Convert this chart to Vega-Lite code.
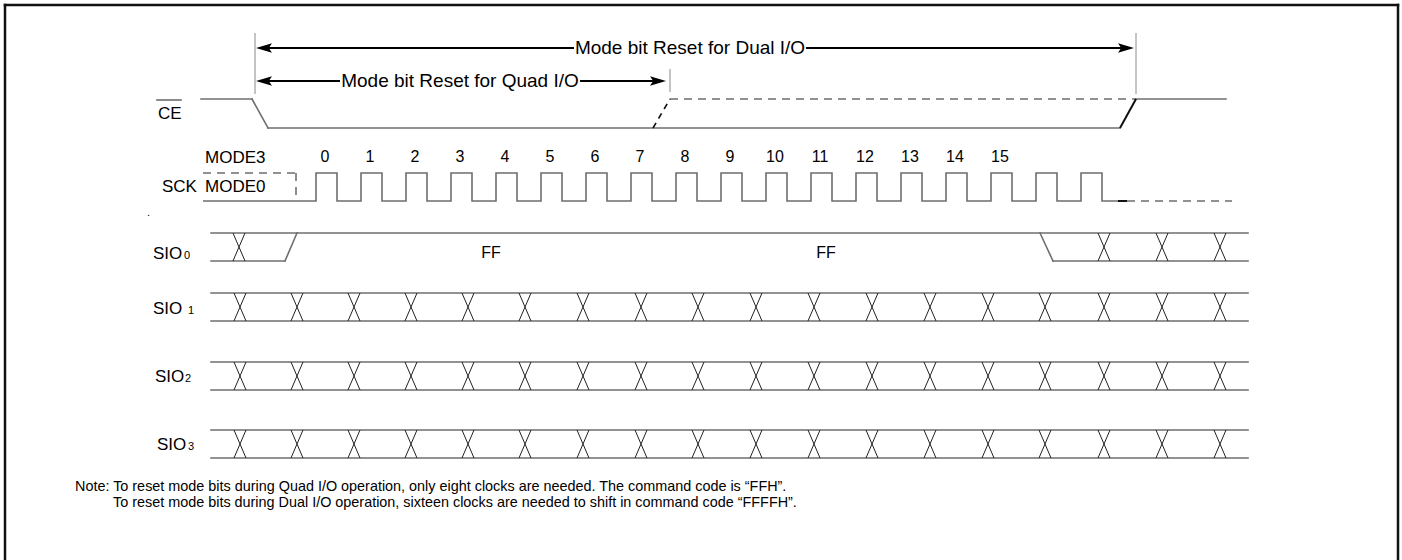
{
  "$schema": "https://vega.github.io/schema/vega-lite/v6.json",
  "width": 1402,
  "height": 560,
  "padding": 0,
  "autosize": {"type": "none"},
  "background": "white",
  "config": {"view": {"stroke": null}},
  "datasets": {
    "frame": [
      {"x": 5, "y": 5, "x2": 1398, "y2": 5},
      {"x": 5, "y": 5, "x2": 5, "y2": 560},
      {"x": 1398, "y": 5, "x2": 1398, "y2": 560}
    ],
    "solid": [
      {"x": 201, "y": 99, "x2": 252, "y2": 99},
      {"x": 252, "y": 99, "x2": 268, "y2": 128},
      {"x": 268, "y": 128, "x2": 1120, "y2": 128},
      {"x": 1136, "y": 99, "x2": 1226, "y2": 99},
      {"x": 157, "y": 100, "x2": 181, "y2": 100},
      {"x": 211, "y": 233, "x2": 1248, "y2": 233},
      {"x": 211, "y": 261, "x2": 285, "y2": 261},
      {"x": 285, "y": 261, "x2": 297, "y2": 233},
      {"x": 1040, "y": 233, "x2": 1053, "y2": 261},
      {"x": 1053, "y": 261, "x2": 1248, "y2": 261},
      {"x": 211, "y": 293, "x2": 1248, "y2": 293},
      {"x": 211, "y": 321, "x2": 1248, "y2": 321},
      {"x": 211, "y": 362, "x2": 1248, "y2": 362},
      {"x": 211, "y": 390, "x2": 1248, "y2": 390},
      {"x": 211, "y": 430, "x2": 1248, "y2": 430},
      {"x": 211, "y": 458, "x2": 1248, "y2": 458}
    ],
    "ticks": [
      {"x": 255, "y": 33, "x2": 255, "y2": 94},
      {"x": 670, "y": 69, "x2": 670, "y2": 92},
      {"x": 1136, "y": 33, "x2": 1136, "y2": 94}
    ],
    "arrowlines": [
      {"x": 262, "y": 48, "x2": 574, "y2": 48},
      {"x": 806, "y": 48, "x2": 1128, "y2": 48},
      {"x": 262, "y": 81, "x2": 340, "y2": 81},
      {"x": 580, "y": 81, "x2": 660, "y2": 81}
    ],
    "heads": [
      {"x": 264, "y": 48, "dir": "L"},
      {"x": 1126, "y": 48, "dir": "R"},
      {"x": 264, "y": 81, "dir": "L"},
      {"x": 658, "y": 81, "dir": "R"}
    ],
    "dashgray": [
      {"x": 670, "y": 99, "x2": 1136, "y2": 99},
      {"x": 203, "y": 173, "x2": 296, "y2": 173},
      {"x": 296, "y": 173, "x2": 296, "y2": 201},
      {"x": 1127, "y": 201, "x2": 1232, "y2": 201}
    ],
    "dark": [
      {"x": 1120, "y": 128, "x2": 1136, "y2": 99},
      {"x": 1118, "y": 201, "x2": 1127, "y2": 201}
    ],
    "dashdark": [
      {"x": 653, "y": 128, "x2": 670, "y2": 99}
    ],
    "sck": [
      {"x": 203, "y": 201}, {"x": 316, "y": 173}, {"x": 337, "y": 201},
      {"x": 361, "y": 173}, {"x": 382, "y": 201}, {"x": 406, "y": 173}, {"x": 427, "y": 201},
      {"x": 451, "y": 173}, {"x": 472, "y": 201}, {"x": 496, "y": 173}, {"x": 517, "y": 201},
      {"x": 541, "y": 173}, {"x": 562, "y": 201}, {"x": 586, "y": 173}, {"x": 607, "y": 201},
      {"x": 631, "y": 173}, {"x": 652, "y": 201}, {"x": 676, "y": 173}, {"x": 697, "y": 201},
      {"x": 721, "y": 173}, {"x": 742, "y": 201}, {"x": 766, "y": 173}, {"x": 787, "y": 201},
      {"x": 811, "y": 173}, {"x": 832, "y": 201}, {"x": 856, "y": 173}, {"x": 877, "y": 201},
      {"x": 901, "y": 173}, {"x": 922, "y": 201}, {"x": 946, "y": 173}, {"x": 967, "y": 201},
      {"x": 991, "y": 173}, {"x": 1012, "y": 201}, {"x": 1036, "y": 173}, {"x": 1057, "y": 201},
      {"x": 1081, "y": 173}, {"x": 1102, "y": 201}, {"x": 1118, "y": 201}
    ],
    "crosses": [
      {"x": 239, "y": 247}, {"x": 1104, "y": 247}, {"x": 1162, "y": 247}, {"x": 1220, "y": 247},
      {"x": 240, "y": 307}, {"x": 297, "y": 307}, {"x": 354, "y": 307}, {"x": 411, "y": 307}, {"x": 468, "y": 307}, {"x": 525, "y": 307},
      {"x": 583, "y": 307}, {"x": 641, "y": 307}, {"x": 698, "y": 307}, {"x": 756, "y": 307}, {"x": 814, "y": 307}, {"x": 872, "y": 307},
      {"x": 930, "y": 307}, {"x": 988, "y": 307}, {"x": 1045, "y": 307}, {"x": 1104, "y": 307}, {"x": 1162, "y": 307}, {"x": 1220, "y": 307},
      {"x": 240, "y": 376}, {"x": 297, "y": 376}, {"x": 354, "y": 376}, {"x": 411, "y": 376}, {"x": 468, "y": 376}, {"x": 525, "y": 376},
      {"x": 583, "y": 376}, {"x": 641, "y": 376}, {"x": 698, "y": 376}, {"x": 756, "y": 376}, {"x": 814, "y": 376}, {"x": 872, "y": 376},
      {"x": 930, "y": 376}, {"x": 988, "y": 376}, {"x": 1045, "y": 376}, {"x": 1104, "y": 376}, {"x": 1162, "y": 376}, {"x": 1220, "y": 376},
      {"x": 240, "y": 444}, {"x": 297, "y": 444}, {"x": 354, "y": 444}, {"x": 411, "y": 444}, {"x": 468, "y": 444}, {"x": 525, "y": 444},
      {"x": 583, "y": 444}, {"x": 641, "y": 444}, {"x": 698, "y": 444}, {"x": 756, "y": 444}, {"x": 814, "y": 444}, {"x": 872, "y": 444},
      {"x": 930, "y": 444}, {"x": 988, "y": 444}, {"x": 1045, "y": 444}, {"x": 1104, "y": 444}, {"x": 1162, "y": 444}, {"x": 1220, "y": 444}
    ],
    "arrowtext": [
      {"x": 690, "y": 48, "t": "Mode bit Reset for Dual I/O"},
      {"x": 460, "y": 81, "t": "Mode bit Reset for Quad I/O"}
    ],
    "centertext": [
      {"x": 325, "y": 157, "t": "0"}, {"x": 370, "y": 157, "t": "1"}, {"x": 415, "y": 157, "t": "2"}, {"x": 460, "y": 157, "t": "3"},
      {"x": 505, "y": 157, "t": "4"}, {"x": 550, "y": 157, "t": "5"}, {"x": 595, "y": 157, "t": "6"}, {"x": 640, "y": 157, "t": "7"},
      {"x": 685, "y": 157, "t": "8"}, {"x": 730, "y": 157, "t": "9"}, {"x": 775, "y": 157, "t": "10"}, {"x": 820, "y": 157, "t": "11"},
      {"x": 865, "y": 157, "t": "12"}, {"x": 910, "y": 157, "t": "13"}, {"x": 955, "y": 157, "t": "14"}, {"x": 1000, "y": 157, "t": "15"},
      {"x": 491, "y": 253, "t": "FF"}, {"x": 826, "y": 253, "t": "FF"}
    ],
    "lefttext": [
      {"x": 158, "y": 119, "t": "CE"},
      {"x": 205, "y": 163, "t": "MODE3"},
      {"x": 205, "y": 192, "t": "MODE0"},
      {"x": 162, "y": 192, "t": "SCK"},
      {"x": 153, "y": 259, "t": "SIO"},
      {"x": 153, "y": 314, "t": "SIO"},
      {"x": 155, "y": 382, "t": "SIO"},
      {"x": 157, "y": 450, "t": "SIO"}
    ],
    "subs": [
      {"x": 184, "y": 259, "t": "0"},
      {"x": 188, "y": 314, "t": "1"},
      {"x": 185, "y": 382, "t": "2"},
      {"x": 188, "y": 450, "t": "3"},
      {"x": 147, "y": 216, "t": "."}
    ],
    "notes": [
      {"x": 75, "y": 487, "t": "Note: To reset mode bits during Quad I/O operation, only eight clocks are needed. The command code is \u201cFFH\u201d."},
      {"x": 113, "y": 503, "t": "To reset mode bits during Dual I/O operation, sixteen clocks are needed to shift in command code \u201cFFFFH\u201d."}
    ]
  },
  "layer": [
    {
      "data": {"name": "frame"},
      "mark": {"type": "rule", "color": "#111111", "strokeWidth": 2.5, "strokeCap": "square"},
      "encoding": {
        "x": {"field": "x", "type": "quantitative", "scale": {"domain": [0, 1402], "nice": false, "zero": false}, "axis": null},
        "y": {"field": "y", "type": "quantitative", "scale": {"domain": [560, 0], "nice": false, "zero": false}, "axis": null},
        "x2": {"field": "x2"}, "y2": {"field": "y2"}
      }
    },
    {
      "data": {"name": "solid"},
      "mark": {"type": "rule", "color": "#6e6e6e", "strokeWidth": 1.6, "strokeCap": "square"},
      "encoding": {
        "x": {"field": "x", "type": "quantitative", "axis": null},
        "y": {"field": "y", "type": "quantitative", "axis": null},
        "x2": {"field": "x2"}, "y2": {"field": "y2"}
      }
    },
    {
      "data": {"name": "ticks"},
      "mark": {"type": "rule", "color": "#8a8a8a", "strokeWidth": 1},
      "encoding": {
        "x": {"field": "x", "type": "quantitative", "axis": null},
        "y": {"field": "y", "type": "quantitative", "axis": null},
        "x2": {"field": "x2"}, "y2": {"field": "y2"}
      }
    },
    {
      "data": {"name": "arrowlines"},
      "mark": {"type": "rule", "color": "#000000", "strokeWidth": 2},
      "encoding": {
        "x": {"field": "x", "type": "quantitative", "axis": null},
        "y": {"field": "y", "type": "quantitative", "axis": null},
        "x2": {"field": "x2"}, "y2": {"field": "y2"}
      }
    },
    {
      "data": {"name": "heads"},
      "mark": {"type": "point", "filled": true, "color": "#000000", "opacity": 1, "size": 256},
      "encoding": {
        "x": {"field": "x", "type": "quantitative", "axis": null},
        "y": {"field": "y", "type": "quantitative", "axis": null},
        "shape": {"field": "dir", "type": "nominal", "legend": null,
          "scale": {"domain": ["L", "R"], "range": ["M-1,0L1,-0.6L0.6,0L1,0.6Z", "M1,0L-1,-0.6L-0.6,0L-1,0.6Z"]}}
      }
    },
    {
      "data": {"name": "dashgray"},
      "mark": {"type": "rule", "color": "#6e6e6e", "strokeWidth": 1.6, "strokeDash": [8, 6]},
      "encoding": {
        "x": {"field": "x", "type": "quantitative", "axis": null},
        "y": {"field": "y", "type": "quantitative", "axis": null},
        "x2": {"field": "x2"}, "y2": {"field": "y2"}
      }
    },
    {
      "data": {"name": "dark"},
      "mark": {"type": "rule", "color": "#111111", "strokeWidth": 2},
      "encoding": {
        "x": {"field": "x", "type": "quantitative", "axis": null},
        "y": {"field": "y", "type": "quantitative", "axis": null},
        "x2": {"field": "x2"}, "y2": {"field": "y2"}
      }
    },
    {
      "data": {"name": "dashdark"},
      "mark": {"type": "rule", "color": "#111111", "strokeWidth": 1.6, "strokeDash": [6, 5]},
      "encoding": {
        "x": {"field": "x", "type": "quantitative", "axis": null},
        "y": {"field": "y", "type": "quantitative", "axis": null},
        "x2": {"field": "x2"}, "y2": {"field": "y2"}
      }
    },
    {
      "data": {"name": "sck"},
      "mark": {"type": "line", "color": "#6e6e6e", "strokeWidth": 1.6, "interpolate": "step-after"},
      "encoding": {
        "x": {"field": "x", "type": "quantitative", "axis": null},
        "y": {"field": "y", "type": "quantitative", "axis": null}
      }
    },
    {
      "data": {"name": "crosses"},
      "mark": {"type": "point", "filled": false, "color": "#222222", "strokeWidth": 1, "opacity": 1, "size": 784,
        "shape": "M-0.43,-1L0.43,1M-0.43,1L0.43,-1"},
      "encoding": {
        "x": {"field": "x", "type": "quantitative", "axis": null},
        "y": {"field": "y", "type": "quantitative", "axis": null}
      }
    },
    {
      "data": {"name": "arrowtext"},
      "mark": {"type": "text", "font": "Liberation Sans", "fontSize": 19, "align": "center", "baseline": "middle", "color": "#000000"},
      "encoding": {
        "x": {"field": "x", "type": "quantitative", "axis": null},
        "y": {"field": "y", "type": "quantitative", "axis": null},
        "text": {"field": "t"}
      }
    },
    {
      "data": {"name": "centertext"},
      "mark": {"type": "text", "font": "Liberation Sans", "fontSize": 16, "align": "center", "baseline": "middle", "color": "#000000"},
      "encoding": {
        "x": {"field": "x", "type": "quantitative", "axis": null},
        "y": {"field": "y", "type": "quantitative", "axis": null},
        "text": {"field": "t"}
      }
    },
    {
      "data": {"name": "lefttext"},
      "mark": {"type": "text", "font": "Liberation Sans", "fontSize": 17, "align": "left", "baseline": "alphabetic", "color": "#000000"},
      "encoding": {
        "x": {"field": "x", "type": "quantitative", "axis": null},
        "y": {"field": "y", "type": "quantitative", "axis": null},
        "text": {"field": "t"}
      }
    },
    {
      "data": {"name": "subs"},
      "mark": {"type": "text", "font": "Liberation Sans", "fontSize": 11, "align": "left", "baseline": "alphabetic", "color": "#000000"},
      "encoding": {
        "x": {"field": "x", "type": "quantitative", "axis": null},
        "y": {"field": "y", "type": "quantitative", "axis": null},
        "text": {"field": "t"}
      }
    },
    {
      "data": {"name": "notes"},
      "mark": {"type": "text", "font": "Liberation Sans", "fontSize": 14.4, "align": "left", "baseline": "middle", "color": "#000000"},
      "encoding": {
        "x": {"field": "x", "type": "quantitative", "axis": null},
        "y": {"field": "y", "type": "quantitative", "axis": null},
        "text": {"field": "t"}
      }
    }
  ]
}
